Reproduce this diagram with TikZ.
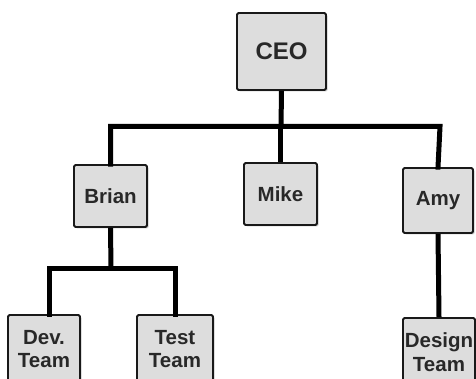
\documentclass[tikz,border=0pt]{standalone}
\usepackage{fontspec}
\setmainfont{Liberation Sans}
\usetikzlibrary{shadows}
\definecolor{boxfill}{RGB}{221,221,221}
\definecolor{txt}{RGB}{40,40,40}
\begin{document}
\begin{tikzpicture}[x=1pt,y=-1pt,
  box/.style={draw=black!90,line width=1.8pt,fill=boxfill,rounded corners=1.5pt,
    font=\bfseries\fontsize{20.5}{23.5}\selectfont,text=txt,align=center,inner sep=0pt,
    drop shadow={shadow xshift=1.5pt,shadow yshift=-1.5pt,opacity=0.4}},
  link/.style={line width=5pt,black}]
\useasboundingbox (0,0) rectangle (476,379);
\clip (0,0) rectangle (476,379);
\fill[white] (0,0) rectangle (476,379);
% connectors
\coordinate (tl) at (110,126.5);
\coordinate (tr) at (440,126.5);
\coordinate (tm) at (281,126.5);
\coordinate (bl) at (49.5,268);
\coordinate (br) at (175,268);
\coordinate (bm) at (111,268);
\node[box,minimum width=89pt,minimum height=77pt,font=\bfseries\fontsize{24}{26}\selectfont] (ceo) at (281.5,51.5) {CEO};
\node[box,minimum width=73pt,minimum height=62pt] (brian) at (110.5,196) {Brian};
\node[box,minimum width=73pt,minimum height=62pt] (mike) at (280.5,194) {Mike};
\node[box,minimum width=70pt,minimum height=65pt] (amy) at (438,200.5) {Amy};
\node[box,minimum width=72pt,minimum height=68pt] (dev) at (44,349) {Dev.\\Team};
\node[box,minimum width=76pt,minimum height=68pt] (test) at (175,349) {Test\\Team};
\node[box,minimum width=72pt,minimum height=68pt] (design) at (439,352) {Design\\Team};
\draw[link] (ceo.south) -- (tm);
\draw[link,line cap=rect] (brian.north) |- (tr) -- (amy.north);
\draw[link] (mike.north) -- (mike.north |- tm);
\draw[link] (brian.south) -- (bm);
\draw[link,line cap=rect] (dev.north -| bl) |- (br) -- (test.north -| br);
\draw[link] (amy.south) -- (design.north);
\end{tikzpicture}
\end{document}
